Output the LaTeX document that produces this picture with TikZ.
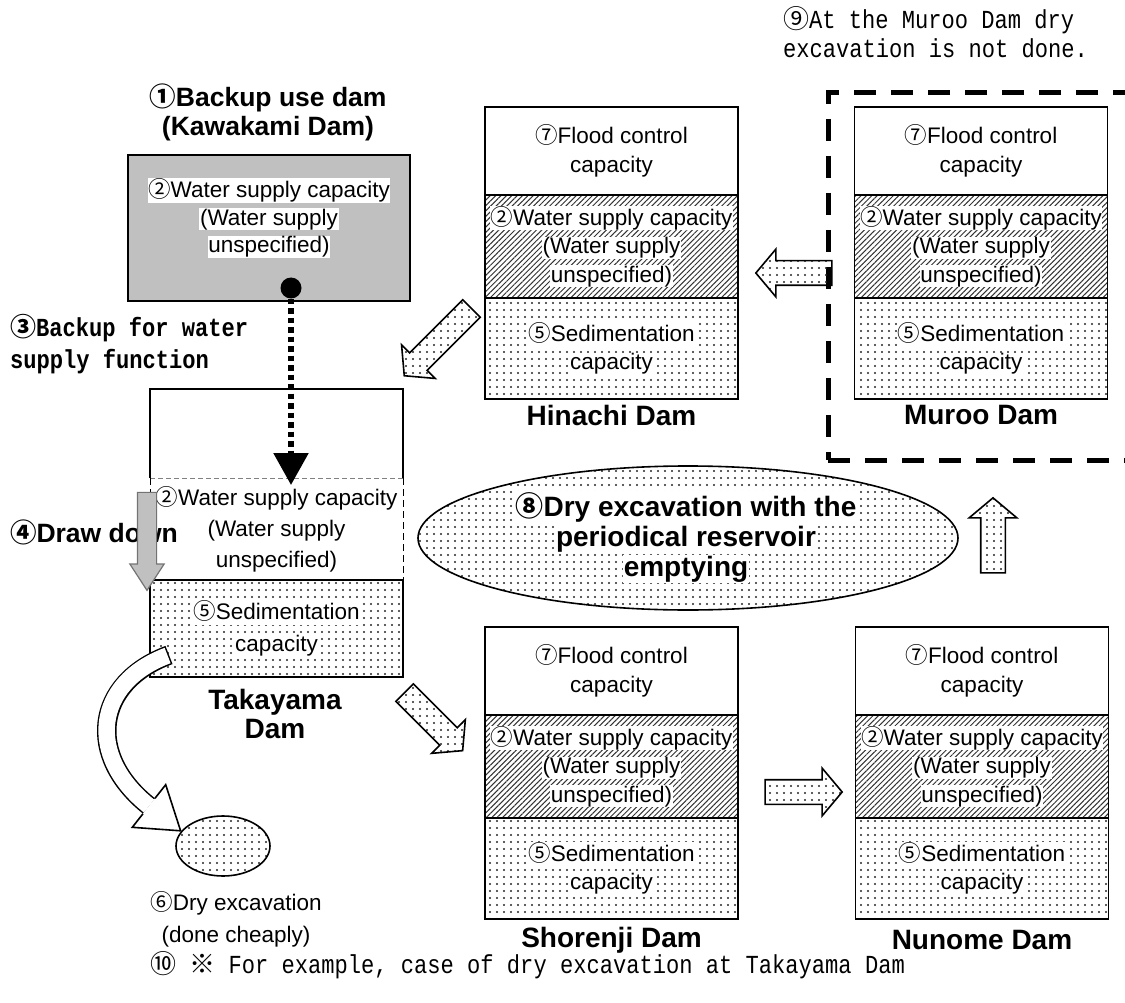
\documentclass[tikz,border=0pt]{standalone}
\usepackage{fontspec}
\setmainfont{Liberation Sans}
\setmonofont{Liberation Mono}
\newfontfamily\cjk{Noto Sans CJK JP}
\newfontfamily\gmono[FakeStretch=0.85]{Liberation Mono}
\usetikzlibrary{positioning,patterns.meta,shapes.arrows,shapes.geometric,arrows.meta}

\definecolor{boxgray}{HTML}{C0C0C0}
\newcommand\cn[1]{{\cjk #1}}
\newcommand\wb[1]{\colorbox{white}{\vphantom{Apy}#1}}
\setlength\fboxsep{0.6pt}

\begin{document}
\begin{tikzpicture}[x=1pt, y=-1pt, line width=1.6pt,
  every node/.style={inner sep=0pt, outer sep=0pt, font=\fontsize{22.5}{28.5}\selectfont}]
  \tikzstyle{part} = [draw, rectangle, minimum width=253pt, align=center]
  \tikzstyle{flood} = [part, fill=white, minimum height=88pt]
  \tikzstyle{supply} = [part, minimum height=103pt, pattern={Lines[angle=45,distance=3.8pt,line width=1pt]}, pattern color=black!80]
  \tikzstyle{dotted area} = [pattern={Dots[distance=7pt,radius=1.1pt]}, pattern color=black!85]
  \tikzstyle{sediment} = [part, minimum height=101pt, dotted area]
  \tikzstyle{damname} = [align=center, font=\fontsize{28}{29}\selectfont\bfseries]
  \tikzstyle{heading} = [align=center, font=\fontsize{26.5}{29}\selectfont\bfseries]
  \tikzstyle{note} = [align=left, font=\fontsize{26}{29}\gmono]
  \tikzstyle{blockarrow} = [draw, single arrow, inner xsep=0pt, inner ysep=11.5pt, single arrow head extend=11.5pt, single arrow tip angle=100, dotted area]

  \useasboundingbox (0,0) rectangle (1125,1003);

  % Muroo zone
  \node[draw, line width=5pt, dash pattern=on 22pt off 15pt, minimum width=340pt, minimum height=367pt, anchor=north west] (murZone) at (828,93) {};
  \node[note, anchor=west] (murNote) at (783,32.5) {\cn{⑨}At the Muroo Dam dry\\excavation is not done.};

  % Kawakami Dam
  \node[heading] (kawaL) at (268,112.5) {\cn{①}Backup use dam\\(Kawakami Dam)};
  \node[draw, fill=boxgray, minimum width=282pt, minimum height=146pt] (kawaB) at (269,228) {};
  \node[align=center, font=\fontsize{22.5}{27.5}\selectfont] (kawaT) at (269,218) {\wb{\cn{②}Water supply capacity}\\\wb{(Water supply}\\\wb{unspecified)}};
  \node[circle, fill=black, minimum size=21pt] (kawaDot) at (291,288) {};
  \node[note, font=\fontsize{26}{32}\gmono\bfseries, anchor=west] (backupT) at (10,344) {\cn{③}Backup for water\\supply function};

  % Takayama Dam
  \node[minimum width=253pt, minimum height=89pt] (takF) at (276.5,433.5) {};
  \draw (takF.south west) -- (takF.north west) -- (takF.north east) -- (takF.south east);
  \node[minimum width=253pt, minimum height=102pt, below=0pt of takF, align=center, font=\fontsize{22.5}{31}\selectfont] (takW) {\cn{②}Water supply capacity\\(Water supply\\unspecified)};
  \draw[gray, line width=1pt, dash pattern=on 5pt off 3pt] (takF.south west) -- (takF.south east);
  \draw[line width=1pt, dash pattern=on 7pt off 4pt] (takW.north west) -- (takW.south west) (takW.north east) -- (takW.south east);
  \node[sediment, minimum height=97pt, below=0pt of takW, font=\fontsize{22.5}{32}\selectfont] (takS) {\wb{\cn{⑤}Sedimentation}\\\wb{capacity}};
  \node[damname] (takL) at (275,714) {Takayama\\Dam};
  \coordinate (kawaTip) at (291,485);
  \draw[line width=5.5pt, dash pattern=on 5.5pt off 4pt, -{Triangle[length=32pt,width=34pt]}] (kawaDot) -- (kawaTip);

  \node[heading, anchor=west] (drawT) at (10,532) {\cn{④}Draw down};
  \node[draw=black!55, fill=boxgray, line width=1.2pt, single arrow, rotate=270, minimum height=98pt, inner xsep=0pt, inner ysep=9pt, single arrow head extend=7.5pt, single arrow tip angle=66] (arDraw) at (147,534) {};

  % dry excavation (cheap)
  \coordinate (curveA) at (169,655);
  \coordinate (curveB) at (149,806);
  \draw[line width=19.5pt] (curveA) .. controls (94,683) and (86,756) .. (curveB);
  \draw[line width=16.5pt, white, shorten <=1.5pt] (curveA) .. controls (94,683) and (86,756) .. (curveB);
  \node[ellipse, draw, minimum width=94pt, minimum height=60pt, dotted area] (drySmall) at (223,846) {};
  \fill[white] (165.7,784.7) -- (180.6,830.8) -- (132.3,827.3) -- cycle;
  \draw[line join=miter] (155,798.3) -- (165.7,784.7) -- (180.6,830.8) -- (132.3,827.3) -- (143,813.7);
  \node[align=center, font=\fontsize{22.5}{32}\selectfont] (drySmallT) at (236,919) {\cn{⑥}Dry excavation\\(done cheaply)};

  % Hinachi Dam
  \node[flood] (hinF) at (611.5,151) {\cn{⑦}Flood control\\capacity};
  \node[supply, below=0pt of hinF] (hinW) {\wb{\cn{②}Water supply capacity}\\\wb{(Water supply}\\\wb{unspecified)}};
  \node[sediment, below=0pt of hinW] (hinS) {\wb{\cn{⑤}Sedimentation}\\\wb{capacity}};
  \node[damname] (hinL) at (611.5,415) {Hinachi Dam};

  % Muroo Dam
  \node[flood] (murF) at (981,151) {\cn{⑦}Flood control\\capacity};
  \node[supply, below=0pt of murF] (murW) {\wb{\cn{②}Water supply capacity}\\\wb{(Water supply}\\\wb{unspecified)}};
  \node[sediment, below=0pt of murW] (murS) {\wb{\cn{⑤}Sedimentation}\\\wb{capacity}};
  \node[damname] (murL) at (981,415) {Muroo Dam};

  % Shorenji Dam
  \node[flood] (shoF) at (611.5,671) {\cn{⑦}Flood control\\capacity};
  \node[supply, below=0pt of shoF] (shoW) {\wb{\cn{②}Water supply capacity}\\\wb{(Water supply}\\\wb{unspecified)}};
  \node[sediment, below=0pt of shoW] (shoS) {\wb{\cn{⑤}Sedimentation}\\\wb{capacity}};
  \node[damname] (shoL) at (611.5,940) {Shorenji Dam};

  % Nunome Dam
  \node[flood] (nunF) at (982,671) {\cn{⑦}Flood control\\capacity};
  \node[supply, below=0pt of nunF] (nunW) {\wb{\cn{②}Water supply capacity}\\\wb{(Water supply}\\\wb{unspecified)}};
  \node[sediment, below=0pt of nunW] (nunS) {\wb{\cn{⑤}Sedimentation}\\\wb{capacity}};
  \node[damname] (nunL) at (982,940) {Nunome Dam};

  % periodical emptying
  \node[ellipse, draw, minimum width=540pt, minimum height=144pt, dotted area] (dryBig) at (688,538) {};
  \node[align=center, font=\fontsize{28}{30}\selectfont\bfseries] (dryBigT) at (686,537) {\wb{\cn{⑧}Dry excavation with the}\\\wb{periodical reservoir}\\\wb{emptying}};

  % rotation arrows
  \node[blockarrow, minimum height=76pt, rotate=180] (arMH) at (799,273) {};
  \node[blockarrow, minimum height=95pt, rotate=225] (arHT) at (441.5,338.5) {};
  \node[blockarrow, minimum height=82pt, rotate=-45] (arTS) at (430,718) {};
  \node[blockarrow, minimum height=77pt] (arSN) at (798.5,792) {};
  \node[blockarrow, minimum height=75pt, rotate=90] (arNM) at (993,540.5) {};

  \node[note, anchor=west] (exampleT) at (150,965) {\cn{⑩} \cn{※} For example, case of dry excavation at Takayama Dam};
\end{tikzpicture}
\end{document}
